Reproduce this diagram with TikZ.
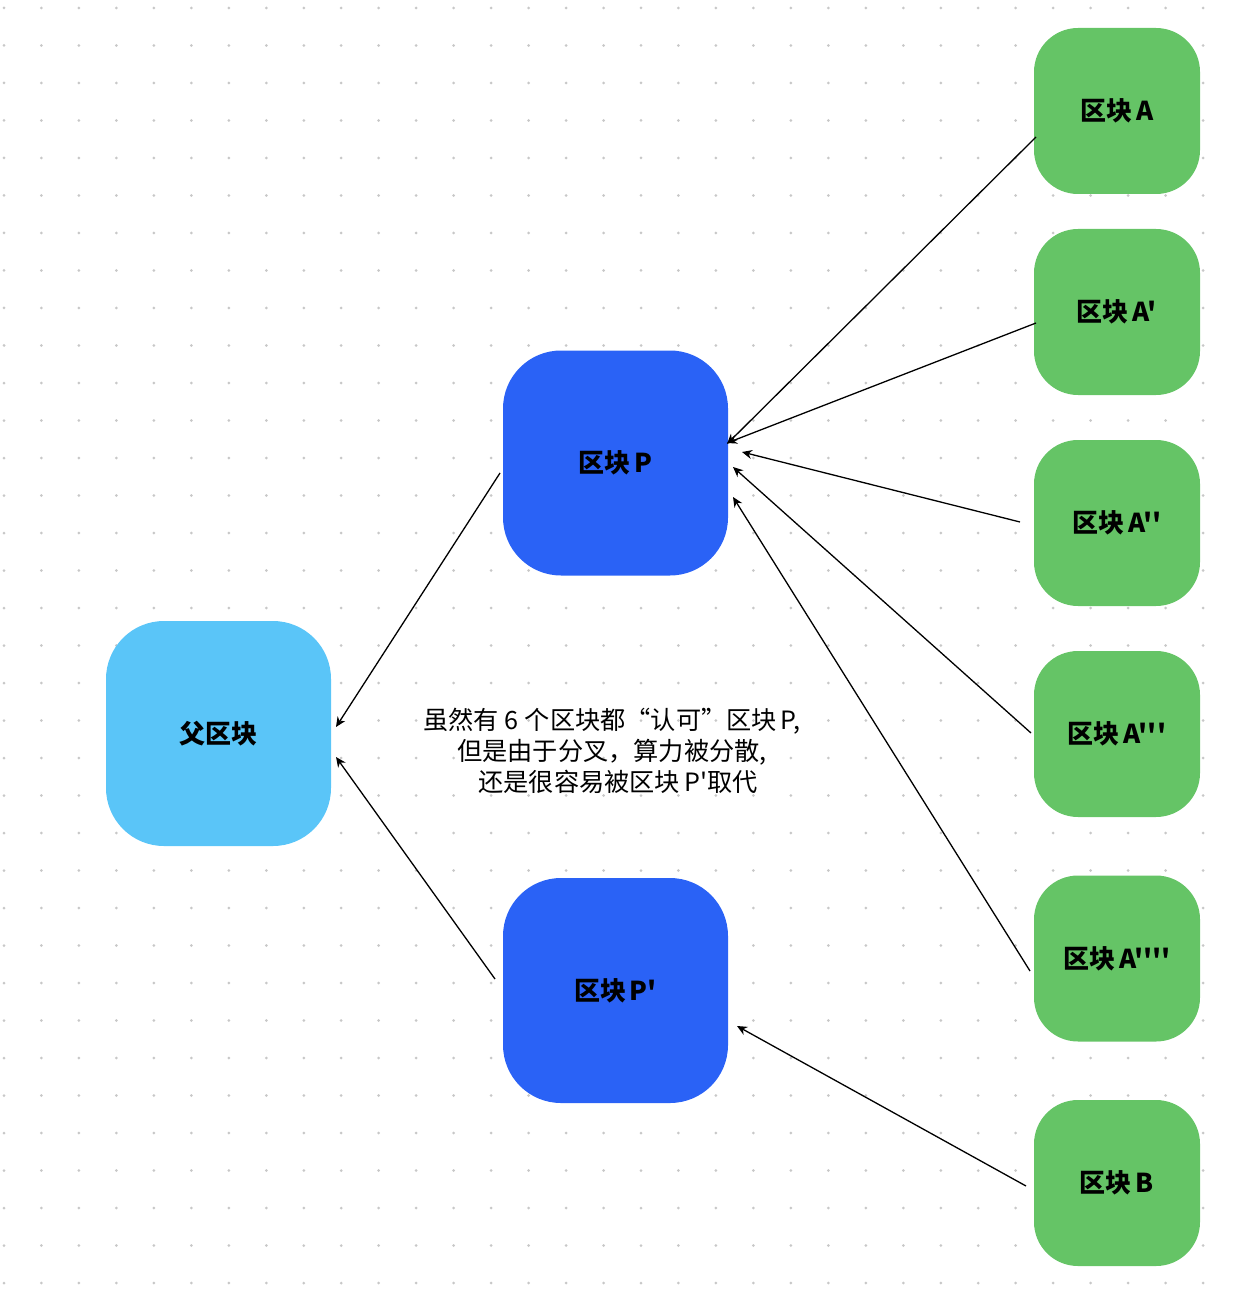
\documentclass[tikz,border=0pt]{standalone}
\usepackage{fontspec}
\newfontfamily\cjk{Noto Sans CJK SC}
\usetikzlibrary{arrows.meta}
\definecolor{parentblue}{HTML}{5AC5F8}
\definecolor{blockblue}{HTML}{2A62F6}
\definecolor{forkgreen}{HTML}{65C466}
\definecolor{dotgray}{HTML}{C8C8C8}

\begin{document}
\begin{tikzpicture}[x=0.5pt,y=-0.5pt,>={Stealth[length=5pt,width=4.5pt]},
        block/.style={rounded corners=29pt,minimum width=112.5pt,minimum height=112.5pt,
                      inner sep=0pt,font=\cjk\bfseries\fontsize{13}{15}\selectfont},
        fork/.style={fill=forkgreen,rounded corners=22pt,minimum width=83pt,minimum height=83pt,
                     inner sep=0pt,font=\cjk\bfseries\fontsize{13}{15}\selectfont},
        link/.style={->,line width=0.65pt}]

  \useasboundingbox (0,0) rectangle (1236,1294);

  % dot grid
  \foreach \i in {0,...,32}
    \foreach \j in {0,...,34}
      \fill[dotgray] (4+37.47*\i,8+37.5*\j) circle (0.75pt);

  \node[block,fill=parentblue] (parent) at (218.5,733.5) {父区块};
  \node[block,fill=blockblue] (p) at (615.5,463) {区块\hspace{2pt}P};
  \node[block,fill=blockblue] (pp) at (615.5,990.5) {区块\hspace{2pt}P'};

  \node[fork] (a1) at (1117,111) {区块\hspace{2pt}A};
  \node[fork] (a2) at (1117,312) {区块\hspace{2pt}A'};
  \node[fork] (a3) at (1117,523) {区块\hspace{2pt}A''};
  \node[fork] (a4) at (1117,734) {区块\hspace{2pt}A'''};
  \node[fork] (a5) at (1117,958.5) {区块\hspace{2pt}A''''};
  \node[fork] (b) at (1117,1183) {区块\hspace{2pt}B};

  \node[align=center,font=\cjk\fontsize{12.6}{15.5}\selectfont] (note) at (612,751)
    {虽然有\hspace{3pt}6\hspace{3pt}个区块都“认可”区块\hspace{2pt}P,\\
     但是由于分叉，算力被分散,\\
     \hspace{6pt}还是很容易被区块\hspace{2pt}P'取代};

  % ends of the links
  \coordinate (p-out) at (500,473);
  \coordinate (pp-out) at (495,979);
  \coordinate (parent-in1) at (336,727);
  \coordinate (parent-in2) at (336,757);
  \coordinate (a1-out) at (1036,137);
  \coordinate (a2-out) at (1036,323);
  \coordinate (a3-out) at (1020,522);
  \coordinate (a4-out) at (1031,733);
  \coordinate (a5-out) at (1030,971);
  \coordinate (b-out) at (1026,1186);
  \coordinate (p-in1) at (727,444);
  \coordinate (p-in2) at (727,443);
  \coordinate (p-in3) at (742,452);
  \coordinate (p-in4) at (733,467);
  \coordinate (p-in5) at (733,497);
  \coordinate (pp-in) at (737,1026);

  \draw[link] (p-out) -- (parent-in1);
  \draw[link] (pp-out) -- (parent-in2);
  \draw[link] (a1-out) -- (p-in1);
  \draw[link] (a2-out) -- (p-in2);
  \draw[link] (a3-out) -- (p-in3);
  \draw[link] (a4-out) -- (p-in4);
  \draw[link] (a5-out) -- (p-in5);
  \draw[link] (b-out) -- (pp-in);

\end{tikzpicture}
\end{document}
